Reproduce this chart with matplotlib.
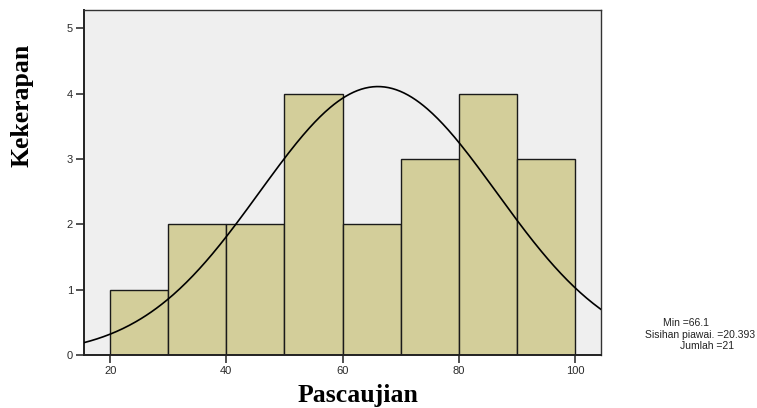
import numpy as np
import matplotlib
matplotlib.use("Agg")
import matplotlib.pyplot as plt

# histogram data (bin edges and counts)
bin_edges = [20, 30, 40, 50, 60, 70, 80, 90, 100]
counts = [1, 2, 2, 4, 2, 3, 4, 3]
mean = 66.1
std = 20.393
n = 21
x_ticks = [20, 40, 60, 80, 100]
y_ticks = [0, 1, 2, 3, 4, 5]

fig = plt.figure(figsize=(7.57, 4.08), dpi=100)
ax = fig.add_axes([84 / 757, 53 / 408, 517 / 757, 345 / 408])
ax.set_facecolor("#efefef")

widths = np.diff(bin_edges)
ax.bar(bin_edges[:-1], counts, width=widths, align="edge",
       color="#d3ce9a", edgecolor="#1a1a1a", linewidth=1.0, zorder=2)

# normal curve scaled to the counts
xs = np.linspace(15.5, 104.5, 400)
ys = n * widths[0] / (std * np.sqrt(2 * np.pi)) * np.exp(-0.5 * ((xs - mean) / std) ** 2)
ax.plot(xs, ys, color="black", linewidth=1.2, zorder=3)

ax.set_xlim(15.5, 104.5)
ax.set_ylim(0, 5.28)
ax.set_xticks(x_ticks)
ax.set_yticks(y_ticks)
ax.tick_params(direction="out", length=6, width=1.1, labelsize=8, pad=2,
               labelcolor="#2a2a2a", color="#222222")
for side in ["left", "bottom"]:
    ax.spines[side].set_linewidth(1.4)
    ax.spines[side].set_color("#222222")
for side in ["top", "right"]:
    ax.spines[side].set_linewidth(1.0)
    ax.spines[side].set_color("#333333")
for lab in ax.get_xticklabels() + ax.get_yticklabels():
    lab.set_family("Liberation Sans")

fig.text(358 / 757, 6 / 408, "Pascaujian", ha="center", va="baseline",
         family="Liberation Serif", weight="bold", fontsize=18.5)
fig.text(22 / 757, 303 / 408, "Kekerapan", ha="center", va="center", rotation=90,
         family="Liberation Serif", weight="bold", fontsize=18.5)

# stats box
stats = [("Min =66.1", 663), ("Sisihan piawai. =20.393", 645), ("Jumlah =21", 680)]
for i, (txt, xp) in enumerate(stats):
    fig.text(xp / 757, (408 - 323 - i * 11.5) / 408, txt, ha="left", va="center",
             family="Liberation Sans", fontsize=7.5, color="#222222")

fig.savefig("out.png", dpi=100)
